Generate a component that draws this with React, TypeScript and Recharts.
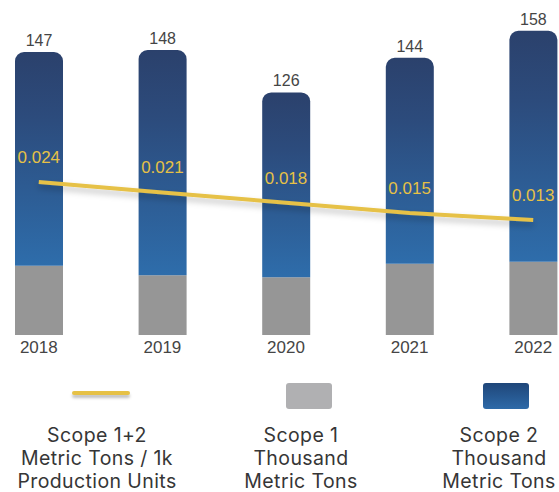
import React from 'react'
import { ComposedChart, Bar, Line, XAxis, YAxis, LabelList } from 'recharts'

const years = ['2018', '2019', '2020', '2021', '2022']
const totals = [147, 148, 126, 144, 158]
const scope1 = [36, 31, 30, 37, 38]
const intensity = [0.024, 0.021, 0.018, 0.015, 0.013]

const legendLabels = [
  ['Scope 1+2', 'Metric Tons / 1k', 'Production Units'],
  ['Scope 1', 'Thousand', 'Metric Tons'],
  ['Scope 2', 'Thousand', 'Metric Tons'],
]

const data = years.map((year, i) => ({
  year,
  total: totals[i],
  scope1: scope1[i],
  scope2: totals[i] - scope1[i],
  intensity: intensity[i],
}))

const YELLOW = '#e6c146'
const GRAY = '#969696'
const TEXT = '#454545'
const AXIS_FONT = '"Liberation Sans", Arial, sans-serif'
const LEGEND_FONT = 'Inter, "Open Sans", sans-serif'

const legendCenters = [97, 301, 499]

export default function App() {
  return (
    <div style={{ position: 'absolute', left: 0, top: 0, width: 559, height: 492, overflow: 'hidden', background: '#fff' }}>
      <div style={{ position: 'absolute', left: -23, top: 0 }}>
        <ComposedChart
          width={618}
          height={365}
          data={data}
          margin={{ top: 27, right: 0, bottom: 0, left: 0 }}
          barSize={48}
        >
          <defs>
            <linearGradient id="scope2Fill" x1="0" y1="0" x2="0" y2="1">
              <stop offset="0%" stopColor="#2b416c" />
              <stop offset="30%" stopColor="#2c4b7c" />
              <stop offset="100%" stopColor="#2e6dab" />
            </linearGradient>
            <filter id="lineShadow" x="-10%" y="-50%" width="120%" height="200%">
              <feDropShadow dx="0" dy="4" stdDeviation="3" floodColor="#000" floodOpacity="0.25" />
            </filter>
          </defs>
          <XAxis
            dataKey="year"
            axisLine={false}
            tickLine={false}
            tickSize={0}
            tickMargin={6}
            height={30}
            tick={{ fill: TEXT, fontSize: 17, fontFamily: AXIS_FONT }}
          />
          <YAxis yAxisId="left" domain={[0, 160]} hide />
          <YAxis yAxisId="right" orientation="right" domain={[-0.0203, 0.0689]} hide />
          <Bar yAxisId="left" dataKey="scope1" stackId="a" fill={GRAY} isAnimationActive={false} />
          <Bar
            yAxisId="left"
            dataKey="scope2"
            stackId="a"
            fill="url(#scope2Fill)"
            radius={[9, 9, 0, 0]}
            isAnimationActive={false}
          >
            <LabelList
              dataKey="total"
              position="top"
              offset={6}
              fill={TEXT}
              fontSize={16}
              fontFamily={AXIS_FONT}
            />
          </Bar>
          <Line
            yAxisId="right"
            dataKey="intensity"
            stroke={YELLOW}
            strokeWidth={4}
            dot={false}
            activeDot={false}
            filter="url(#lineShadow)"
            isAnimationActive={false}
          >
            <LabelList
              dataKey="intensity"
              position="top"
              offset={19}
              fill={YELLOW}
              fontSize={17}
              fontFamily={AXIS_FONT}
              formatter={(v: number) => v.toFixed(3)}
            />
          </Line>
        </ComposedChart>
      </div>

      {/* legend */}
      <div
        style={{
          position: 'absolute', left: 72, top: 391, width: 58, height: 4,
          background: YELLOW, borderRadius: 2, boxShadow: '0 3px 3px rgba(0,0,0,0.25)',
        }}
      />
      <div
        style={{
          position: 'absolute', left: 286, top: 383, width: 46, height: 26,
          background: '#b0b0b2', borderRadius: 3,
        }}
      />
      <div
        style={{
          position: 'absolute', left: 483, top: 383, width: 46, height: 26,
          background: 'linear-gradient(#1f4679, #2e6aa8)', borderRadius: 3,
        }}
      />
      {legendLabels.map((lines, c) =>
        lines.map((line, r) => (
          <div
            key={`${c}-${r}`}
            style={{
              position: 'absolute',
              left: legendCenters[c] - 110,
              top: 424 + r * 23,
              width: 220,
              height: 23,
              textAlign: 'center',
              fontFamily: LEGEND_FONT,
              fontSize: 19.5,
              lineHeight: '23px',
              letterSpacing: 0.4,
              color: '#363636',
              whiteSpace: 'nowrap',
            }}
          >
            {line}
          </div>
        ))
      )}
    </div>
  )
}
